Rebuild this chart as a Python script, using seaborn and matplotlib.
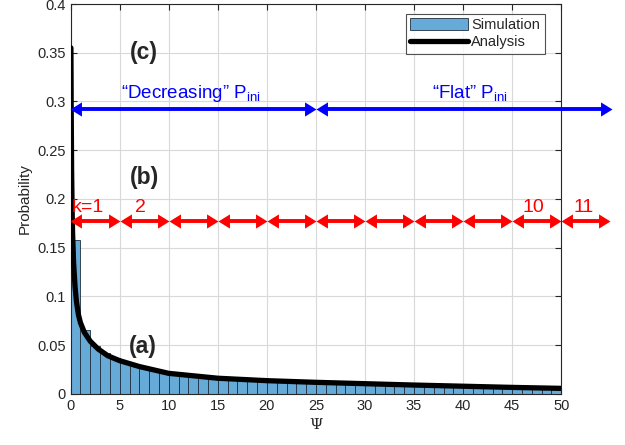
import numpy as np
import pandas as pd
import matplotlib
matplotlib.use("Agg")
import matplotlib.pyplot as plt
import seaborn as sns

# ---- data ----
bin_edges = list(range(0, 51))
sim_prob = [0.158, 0.065, 0.049, 0.042, 0.037, 0.033, 0.030, 0.027, 0.025, 0.023,
            0.021, 0.020, 0.019, 0.018, 0.017, 0.016, 0.0152, 0.0145, 0.014, 0.0135,
            0.013, 0.0126, 0.0122, 0.0118, 0.0115, 0.0112, 0.0109, 0.0106, 0.0103, 0.010,
            0.0097, 0.0094, 0.0091, 0.0088, 0.0085, 0.0082, 0.0079, 0.0077, 0.0075, 0.0073,
            0.0071, 0.0069, 0.0067, 0.0065, 0.0063, 0.0061, 0.0059, 0.0057, 0.0055, 0.0053]
ana_x = [0.03, 0.06, 0.1, 0.15, 0.2, 0.3, 0.45, 0.6, 0.8, 1.0, 1.4, 2.0, 2.8, 3.8, 5.0,
         7.0, 10.0, 15.0, 20.0, 25.0, 30.0, 35.0, 40.0, 45.0, 50.0]
ana_y = [0.355, 0.29, 0.23, 0.19, 0.165, 0.135, 0.11, 0.094, 0.081, 0.073, 0.063, 0.054,
         0.046, 0.039, 0.034, 0.028, 0.021, 0.016, 0.0135, 0.0118, 0.0104, 0.009,
         0.0078, 0.0066, 0.0056]
k_bounds = [-0.1, 5, 10, 15, 20, 25, 30, 35, 40, 45, 50, 55]
k_labels = ["k=1", "2", "10", "11"]
k_label_x = [1.7, 7.1, 47.2, 52.3]
region_bounds = [-0.1, 25, 55.2]
region_labels = ["\u201cDecreasing\u201d P$_{\\mathregular{ini}}$", "\u201cFlat\u201d P$_{\\mathregular{ini}}$"]
region_label_x = [12.2, 40.7]
x_ticks = list(range(0, 51, 5))
y_ticks = [0, 0.05, 0.1, 0.15, 0.2, 0.25, 0.3, 0.35, 0.4]
y_ticklabels = ["0", "0.05", "0.1", "0.15", "0.2", "0.25", "0.3", "0.35", "0.4"]

sns.set_style("ticks")
plt.rcParams["font.family"] = ["Liberation Sans", "DejaVu Sans"]
plt.rcParams["mathtext.fontset"] = "custom"
plt.rcParams["mathtext.rm"] = "Liberation Sans"

fig = plt.figure(figsize=(6.25, 4.45), dpi=100)
ax = fig.add_axes([0.113, 0.115, 0.785, 0.876])

centers = [e + 0.5 for e in bin_edges[:-1]]
sns.histplot(x=centers, weights=sim_prob, bins=bin_edges, ax=ax,
             color="#66AAD7", alpha=1.0, edgecolor="#1f2f3f", linewidth=0.6,
             label="Simulation", zorder=2)
sns.lineplot(x=ana_x, y=ana_y, ax=ax, color="black", linewidth=3.8,
             label="Analysis", zorder=3)

ax.set_xlim(0, 50)
ax.set_ylim(0, 0.4)
ax.set_xticks(x_ticks)
ax.set_yticks(y_ticks)
ax.set_yticklabels(y_ticklabels)
ax.grid(True, color="#d9d9d9", linewidth=0.8, zorder=0)
ax.set_axisbelow(True)
ax.tick_params(direction="in", length=4, labelsize=10.5, colors="#262626",
               top=True, right=True)
for s in ax.spines.values():
    s.set_color("#262626")
    s.set_linewidth(0.8)
ax.set_xlabel("\u03a8", fontsize=11, color="#262626", family=["DejaVu Serif"])
ax.set_ylabel("Probability", fontsize=11, color="#262626")

# double-headed arrows: shaft + triangular heads with tip at the end point
right_head = [(0, 0), (-1, 0.62), (-1, -0.62), (0, 0)]
left_head = [(0, 0), (1, 0.62), (1, -0.62), (0, 0)]
HEAD_MS = 16.5
INSET = 0.7


def darrow(x0, x1, y, color):
    ax.plot([x0 + INSET, x1 - INSET], [y, y], color=color, lw=2.8,
            solid_capstyle="butt", clip_on=False, zorder=5)
    ax.plot([x1], [y], marker=right_head, markersize=HEAD_MS, color=color,
            markeredgewidth=0, linestyle="none", clip_on=False, zorder=5)
    ax.plot([x0], [y], marker=left_head, markersize=HEAD_MS, color=color,
            markeredgewidth=0, linestyle="none", clip_on=False, zorder=5)


for a, b in zip(region_bounds[:-1], region_bounds[1:]):
    darrow(a, b, 0.292, "#0000ff")
for a, b in zip(k_bounds[:-1], k_bounds[1:]):
    darrow(a, b, 0.177, "#ff0000")

for lab, xx in zip(region_labels, region_label_x):
    ax.text(xx, 0.297, lab, color="#0000ff", fontsize=13.5, ha="center", va="bottom",
            clip_on=False)
for lab, xx in zip(k_labels, k_label_x):
    ax.text(xx, 0.182, lab, color="#ff0000", fontsize=14, ha="center", va="bottom",
            clip_on=False)

ax.text(7.5, 0.35, "(c)", fontsize=16.5, fontweight="bold", ha="center", va="center")
ax.text(7.5, 0.222, "(b)", fontsize=16.5, fontweight="bold", ha="center", va="center")
ax.text(7.4, 0.049, "(a)", fontsize=16.5, fontweight="bold", ha="center", va="center")

handles, labels = ax.get_legend_handles_labels()
order = [labels.index("Simulation"), labels.index("Analysis")]
leg = ax.legend([handles[i] for i in order], [labels[i] for i in order],
                loc="upper right", bbox_to_anchor=(0.972, 0.982), fontsize=10.5,
                frameon=True, fancybox=False, edgecolor="#262626",
                handlelength=4.0, handleheight=0.9, borderpad=0.3, labelspacing=0.2,
                handletextpad=0.2, borderaxespad=0.2)
leg.get_frame().set_linewidth(0.8)
leg.set_zorder(6)

fig.savefig("out.png", dpi=100)
